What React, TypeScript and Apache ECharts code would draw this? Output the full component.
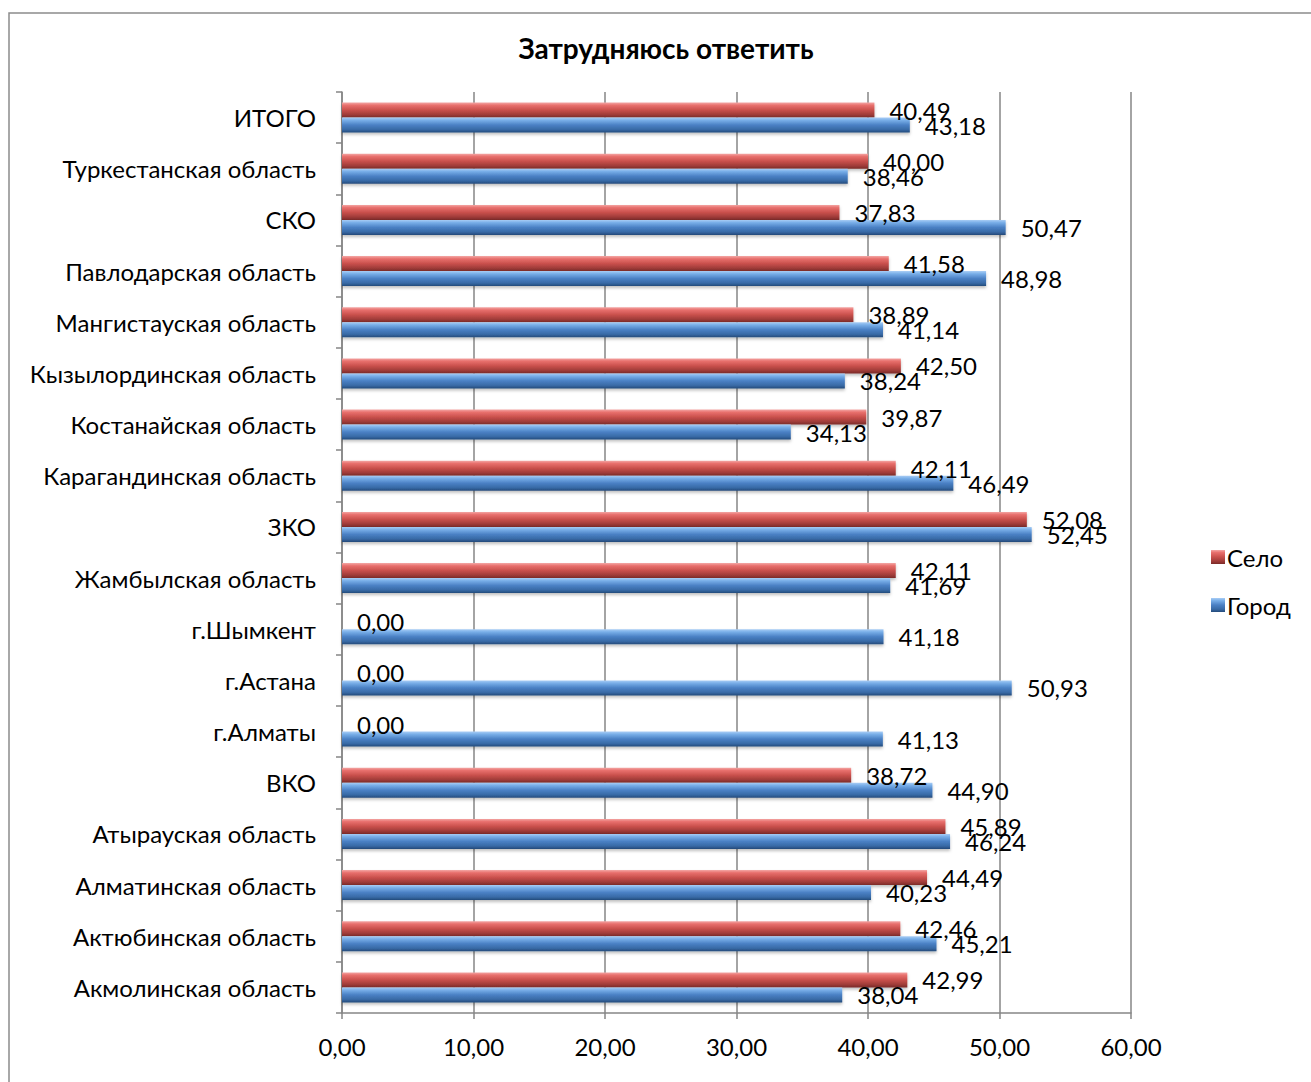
import React, { useEffect, useRef } from "react";
import * as echarts from "echarts";

const categories = [
  "Акмолинская область",
  "Актюбинская область",
  "Алматинская область",
  "Атырауская область",
  "ВКО",
  "г.Алматы",
  "г.Астана",
  "г.Шымкент",
  "Жамбылская область",
  "ЗКО",
  "Карагандинская область",
  "Костанайская область",
  "Кызылординская область",
  "Мангистауская область",
  "Павлодарская область",
  "СКО",
  "Туркестанская область",
  "ИТОГО",
];
const selo = [42.99, 42.46, 44.49, 45.89, 38.72, 0, 0, 0, 42.11, 52.08, 42.11, 39.87, 42.5, 38.89, 41.58, 37.83, 40.0, 40.49];
const gorod = [38.04, 45.21, 40.23, 46.24, 44.9, 41.13, 50.93, 41.18, 41.69, 52.45, 46.49, 34.13, 38.24, 41.14, 48.98, 50.47, 38.46, 43.18];
const titleText = "Затрудняюсь ответить";
const seriesNames = ["Село", "Город"];

const FONT = "Lato";
const FS = 24;
const fmt = (v: number) => v.toFixed(2).replace(".", ",");

const grad = (stops: [number, string][]) =>
  new echarts.graphic.LinearGradient(0, 0, 0, 1, stops.map(([offset, color]) => ({ offset, color })));

const redGrad = () =>
  grad([
    [0, "#f3a6a4"],
    [0.18, "#e8706d"],
    [0.5, "#c9504c"],
    [0.8, "#a03c39"],
    [1, "#7a2a28"],
  ]);
const blueGrad = () =>
  grad([
    [0, "#a9cdf5"],
    [0.18, "#78aee8"],
    [0.5, "#4a80c4"],
    [0.8, "#386aa6"],
    [1, "#244a7a"],
  ]);

export default function App() {
  const ref = useRef<HTMLDivElement>(null);
  useEffect(() => {
    if (!ref.current) return;
    const chart = echarts.init(ref.current, undefined, { renderer: "svg" });
    const label = {
      show: true,
      position: "right" as const,
      distance: 15,
      fontFamily: FONT,
      fontSize: FS,
      color: "#000",
      formatter: (p: any) => fmt(p.value),
    };
    chart.setOption({
      animation: false,
      backgroundColor: "#fff",
      title: {
        text: titleText,
        left: 661,
        top: 29,
        textAlign: "center",
        textStyle: { fontFamily: FONT, fontSize: 28, fontWeight: "bold", color: "#000" },
      },
      graphic: [
        {
          type: "rect",
          shape: { x: 9, y: 13, width: 1400, height: 1200 },
          style: { fill: "none", stroke: "#8c8c8c", lineWidth: 1.5 },
          silent: true,
        },
      ],
      legend: {
        orient: "vertical",
        left: 1206,
        top: 540,
        itemWidth: 14,
        itemHeight: 14,
        itemGap: 24,
        data: [
          { name: seriesNames[0], icon: "rect" },
          { name: seriesNames[1], icon: "rect" },
        ],
        textStyle: { fontFamily: FONT, fontSize: FS, color: "#000", padding: [0, 0, 0, -3] },
      },
      grid: { left: 342, right: 180, top: 92, bottom: 69, containLabel: false },
      xAxis: {
        type: "value",
        min: 0,
        max: 60,
        interval: 10,
        axisLine: { show: true, lineStyle: { color: "#868686", width: 1.5 } },
        axisTick: { show: true, length: 6, lineStyle: { color: "#868686", width: 1.5 } },
        splitLine: { show: true, lineStyle: { color: "#868686", width: 1.5 } },
        axisLabel: {
          fontFamily: FONT,
          fontSize: FS,
          color: "#000",
          margin: 21,
          formatter: (v: number) => fmt(v),
        },
      },
      yAxis: {
        type: "category",
        data: categories,
        axisLine: { show: true, lineStyle: { color: "#868686", width: 1.5 } },
        axisTick: { show: true, length: 6, lineStyle: { color: "#868686", width: 1.5 } },
        axisLabel: { fontFamily: FONT, fontSize: FS, color: "#000", margin: 26 },
      },
      series: [
        {
          name: seriesNames[0],
          type: "bar",
          data: selo,
          barWidth: 15,
          barGap: "0%",
          itemStyle: { color: redGrad(), shadowColor: "rgba(0,0,0,0.25)", shadowBlur: 3, shadowOffsetY: 2 },
          label,
        },
        {
          name: seriesNames[1],
          type: "bar",
          data: gorod,
          barWidth: 15,
          barGap: "0%",
          itemStyle: { color: blueGrad(), shadowColor: "rgba(0,0,0,0.25)", shadowBlur: 3, shadowOffsetY: 2 },
          label,
        },
      ],
    });
    return () => chart.dispose();
  }, []);
  return (
    <div
      ref={ref}
      style={{ position: "fixed", left: 0, top: 0, width: 1311, height: 1082, background: "#fff" }}
    />
  );
}
